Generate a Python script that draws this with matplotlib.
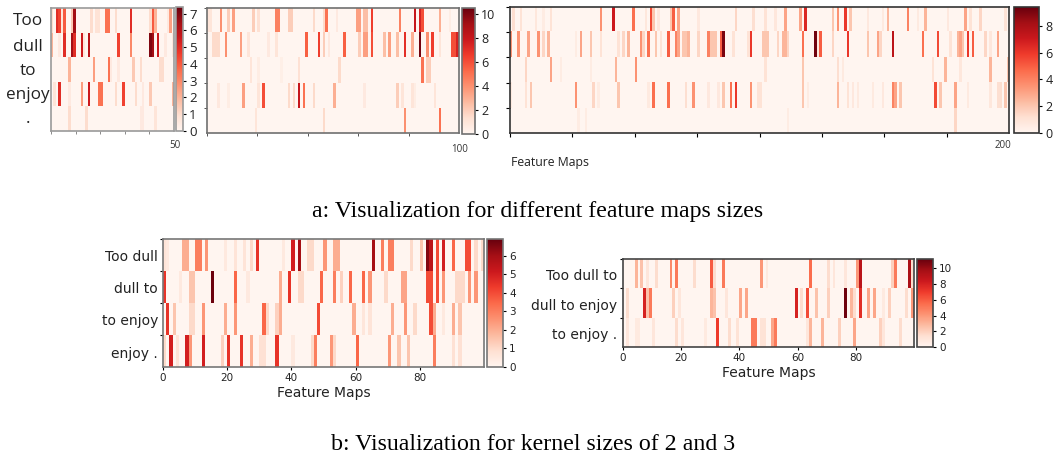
import numpy as np
import matplotlib
matplotlib.use("Agg")
import matplotlib.pyplot as plt

# each row: (feature map, activation), everything else is zero
a1_too = [(0,1),(2,5),(3,4.5),(4,.7),(5,4),(8,1.5),(9,6.5),(16,1),(18,.8),(19,.8),(22,3.5),(23,3.5),(26,1),(32,5),(40,1),(41,4),(42,2),(47,.5),(48,2.5)]
a1_dull = [(0,2),(3,.5),(5,5),(8,6.5),(9,5),(12,5.5),(13,.6),(15,6),(27,4.5),(32,3),(40,7),(41,6.5),(43,5.5),(46,.5),(49,.6)]
a1_to = [(7,2),(17,2.5),(23,3.5),(24,.5),(27,.5),(33,1.5),(36,1),(44,1),(45,1)]
a1_enjoy = [(1,.7),(3,5),(7,.5),(12,2.5),(15,5.5),(19,3.5),(20,3.5),(26,1),(29,4.5),(34,1),(37,.5),(40,1.5),(49,2)]
a1_dot = [(7,1),(14,1),(36,.5),(37,.5),(42,.7)]

a2_too = [(0,1),(1,1),(5,4),(8,2),(10,3.5),(18,2),(20,1.2),(27,4.5),(28,4.5),(32,2),(33,2),(42,1.5),(46,1.5),(47,5),(51,.7),(59,3.5),(60,3.5),(62,2.5),(63,2.5),(65,6.5),(76,4.5),(82,8),(84,7.5),(85,6),(92,3),(96,.5)]
a2_dull = [(2,1.5),(3,1.5),(4,1.5),(7,4),(13,3.5),(16,1),(24,.7),(27,1),(39,5.5),(44,6.5),(46,2),(48,.8),(54,5.5),(60,2),(62,3.5),(63,3.5),(65,6),(70,2.5),(72,3.5),(75,2.5),(78,7),(81,3),(84,10.2),(87,4),(89,6.5),(92,1),(97,6),(98,6),(99,7.5)]
a2_to = [(17,1),(20,.5),(29,.4),(36,1.2),(52,1.5),(85,5),(87,2),(88,2)]
a2_enjoy = [(4,.8),(8,.5),(14,3.5),(20,1),(22,6),(32,1.5),(34,1.5),(36,8),(38,5),(42,1.5),(50,3),(62,.7),(75,2),(77,1),(81,1),(82,.5),(90,1)]
a2_dot = [(19,1),(46,1.5),(78,4),(92,5)]

a3_too = [(1,1.2),(4,1),(10,.8),(13,.5),(16,1),(36,3.5),(41,7),(49,4.5),(54,.8),(56,5.5),(57,2),(59,.7),(64,2),(65,5),(67,3),(75,.7),(90,1.5),(97,1.2),(102,1),(106,.8),(110,3),(116,3),(118,6.5),(129,2),(131,3.5),(134,6),(136,2),(143,.7),(149,.6),(151,2.5),(159,4),(163,.6),(166,2.5),(175,.7),(182,3),(184,1),(188,1.5),(198,1)]
a3_dull = [(0,3.5),(3,3.5),(7,3),(11,3.5),(13,1.5),(15,2.5),(26,.5),(28,3),(32,2),(36,1),(43,1),(45,1.5),(47,2.5),(52,3.5),(53,1.5),(55,4.5),(58,2),(60,1),(63,5),(66,4),(67,3),(69,2),(70,2),(71,2.5),(75,1.5),(79,4),(80,2),(81,2),(82,2),(84,5),(85,9),(89,1),(95,1),(96,6),(101,2),(102,2),(103,2),(107,1.5),(109,2.5),(110,2.5),(111,1.5),(117,4.5),(122,9.2),(123,.7),(124,5),(129,1.5),(135,6),(143,2),(147,3),(148,1.5),(153,7.5),(165,4.5),(171,5.5),(176,1),(179,2.5),(180,3),(181,2),(183,6),(185,5),(190,1.5),(192,.8),(195,3)]
a3_to = [(6,1.5),(16,3),(20,.5),(32,.5),(42,2.5),(50,3.5),(102,1),(117,2),(131,1.2),(133,.6),(169,1),(174,2.5),(180,.8),(192,2.5),(199,2)]
a3_enjoy = [(0,.6),(6,1),(8,2),(26,3.5),(33,1.5),(35,.5),(43,2),(55,.6),(57,4.5),(63,4.5),(70,1.2),(73,3.5),(79,.7),(83,.7),(85,2),(88,4.5),(90,6),(96,3.5),(99,1),(100,1),(117,2),(119,.5),(131,2.5),(135,1),(137,.7),(139,.6),(145,.6),(149,.7),(153,4),(154,3),(156,2),(170,5.5),(172,2),(178,3),(183,.6),(192,.8),(195,1.2),(196,1.2),(198,2)]
a3_dot = [(27,.5),(30,.5),(111,.5),(178,1.5)]

b1_too_dull = [(0,.7),(1,.5),(6,2),(7,2),(10,3),(11,3),(13,2.5),(19,.5),(22,.7),(25,.7),(27,1),(29,4.5),(37,.5),(40,5),(42,6),(45,1),(46,1),(50,2.5),(53,2),(54,2),(65,6),(68,3),(70,3),(71,3),(77,1),(80,1.5),(82,6.5),(83,5.5),(85,4),(87,5),(90,3.5),(94,4),(95,4),(97,1),(99,1)]
b1_dull_to = [(0,4.5),(5,.5),(8,1.5),(9,1.5),(15,6.8),(22,3.5),(26,.5),(36,2),(39,4.5),(42,1),(43,1),(49,3.5),(53,3),(55,1.2),(58,3.5),(62,3.5),(64,2.5),(69,1),(74,2.2),(75,2.2),(82,4),(83,4),(85,4),(87,2.5),(91,1),(92,1),(93,1),(95,2.5),(97,2.5)]
b1_to_enjoy = [(1,4.5),(3,1.5),(8,1),(9,1),(12,2.5),(19,2),(22,2.5),(31,3.5),(32,1),(35,1.2),(36,2),(48,4),(59,2),(62,.6),(64,.7),(71,2),(75,2.5),(78,1),(83,4),(84,2),(87,.5),(90,2),(92,1.5)]
b1_enjoy_dot = [(0,1),(2,5),(4,.7),(7,5),(8,2.5),(12,5),(18,1.2),(20,4.5),(24,4.5),(27,2),(30,.8),(31,.8),(35,4.5),(40,.5),(46,1),(47,3),(52,2.5),(53,1),(60,3.5),(70,2.5),(73,1.5),(76,1.5),(84,3),(90,.8),(92,.8)]

b2_too_dull_to = [(4,3),(6,2.5),(8,1),(11,1.5),(16,4.5),(18,5),(24,1.5),(30,6),(31,1.5),(34,5),(47,4),(49,.7),(64,5.5),(70,1.5),(72,1),(76,1),(80,4),(81,9),(92,2),(93,5),(98,9.5),(99,1.5)]
b2_dull_to_enjoy = [(1,1.5),(7,8),(8,2.5),(9,5),(17,2),(19,1),(30,3),(31,2.5),(35,1),(40,3.5),(42,3.5),(59,8),(61,1.5),(63,6.5),(66,2.5),(70,2),(76,11),(78,3),(79,1.5),(81,7.5),(84,3.5),(86,3.5),(89,.7),(91,2),(97,1.5),(99,4)]
b2_to_enjoy_dot = [(1,1),(4,.7),(5,.7),(10,1),(18,1.5),(20,1),(28,.7),(32,7),(36,1.5),(39,1.2),(44,5),(45,5),(47,1.2),(48,1.2),(51,3.5),(52,5),(63,1),(64,3),(68,3),(74,2),(79,3.5),(88,2),(89,1),(95,1.5)]

words = ["Too", "dull", "to", "enjoy", "."]
bigram_labels = ["Too dull", "dull to", "to enjoy", "enjoy ."]
trigram_labels = ["Too dull to", "dull to enjoy", "to enjoy ."]

W, H = 1062, 455
fig = plt.figure(figsize=(W / 100, H / 100), dpi=100)


def box(x0, y0, x1, y1):
    # pixel box (top-left origin) to figure fractions
    return [x0 / W, 1 - y1 / H, (x1 - x0) / W, (y1 - y0) / H]


def to_matrix(rows, ncols):
    mat = np.zeros((len(rows), ncols))
    for i, row in enumerate(rows):
        for col, val in row:
            mat[i, col] = val
    return mat


def heat(rows, ncols, vmax, ax_box, cb_box, cb_ticks, edge, cb_size, tick_font):
    ax = fig.add_axes(box(*ax_box))
    cax = fig.add_axes(box(*cb_box))
    mat = to_matrix(rows, ncols)
    im = ax.imshow(mat, cmap="Reds", vmin=0, vmax=vmax, aspect="auto",
                   extent=(0, ncols, len(rows), 0), interpolation="nearest")
    cb = fig.colorbar(im, cax=cax, ticks=cb_ticks)
    cb.ax.tick_params(labelsize=cb_size, length=2.5, width=0.8, pad=2, labelcolor="#222222")
    for t in cb.ax.get_yticklabels():
        t.set_fontfamily(tick_font)
    cb.outline.set_edgecolor(edge)
    cb.outline.set_linewidth(1.2)
    for s in ax.spines.values():
        s.set_edgecolor(edge)
        s.set_linewidth(1.2)
    ax.set_yticks(range(len(rows)))
    return ax


# top row
ax = heat([a1_too, a1_dull, a1_to, a1_enjoy, a1_dot], 50, 7.4, (51, 8, 174, 131), (176, 7, 183, 131),
          range(8), "#9a9a9a", 9.5, "Open Sans")
ax.set_xticks(range(0, 50, 10))
ax.tick_params(labelbottom=False, labelleft=False, length=2, width=0.6, color="#777777")
ax.tick_params(axis="y", length=0)

ax = heat([a2_too, a2_dull, a2_to, a2_enjoy, a2_dot], 100, 10.5, (207, 8, 459, 133), (462, 8, 475, 134),
          range(0, 11, 2), "#707070", 9, "Open Sans")
ax.set_xticks(range(0, 100, 20))
ax.tick_params(labelbottom=False, labelleft=False, length=2.5, width=0.7, color="#555555")

ax = heat([a3_too, a3_dull, a3_to, a3_enjoy, a3_dot], 200, 9.4, (510, 7, 1009, 133), (1014, 7, 1039, 133),
          range(0, 9, 2), "#333333", 9, "Open Sans")
ax.set_xticks(range(0, 200, 25))
ax.tick_params(labelbottom=False, labelleft=False, length=3, width=0.8)

for word, y in zip(words, [21, 47, 71, 95, 119]):
    fig.text(28 / W, 1 - y / H, word, family="Open Sans", fontsize=12.3, ha="center", va="center", color="#222222")

fig.text(175 / W, 1 - 146 / H, "50", family="Open Sans", fontsize=7, ha="center", va="center", color="#333333")
fig.text(460 / W, 1 - 149 / H, "100", family="Open Sans", fontsize=7, ha="center", va="center", color="#333333")
fig.text(1003 / W, 1 - 146 / H, "200", family="Open Sans", fontsize=7, ha="center", va="center", color="#333333")
fig.text(511 / W, 1 - 162 / H, "Feature Maps", family="Open Sans", fontsize=8.8, ha="left", va="center", color="#222222")

# bottom row
ax = heat([b1_too_dull, b1_dull_to, b1_to_enjoy, b1_enjoy_dot], 100, 6.9, (163, 239, 484, 367), (487, 239, 503, 367),
          range(7), "#777777", 7.5, "DejaVu Sans")
ax.set_xticks(range(0, 100, 20))
ax.tick_params(labelsize=7.5, length=2.5, width=0.8, pad=1.5, labelcolor="#222222")
ax.tick_params(axis="y", labelleft=False)
ax.set_xlabel("Feature Maps", fontsize=10, labelpad=2.5, color="#222222")
for label, y in zip(bigram_labels, [257, 289, 321, 354]):
    fig.text(158 / W, 1 - y / H, label, fontsize=10, ha="right", va="center", color="#222222")

ax = heat([b2_too_dull_to, b2_dull_to_enjoy, b2_to_enjoy_dot], 100, 11.2, (623, 259, 914, 347), (917, 259, 933, 347),
          range(0, 11, 2), "#444444", 7.5, "DejaVu Sans")
ax.set_xticks(range(0, 100, 20))
ax.tick_params(labelsize=7.5, length=2.5, width=0.8, pad=1.5, labelcolor="#222222")
ax.tick_params(axis="y", labelleft=False)
ax.set_xlabel("Feature Maps", fontsize=10, labelpad=2.5, color="#222222")
for label, y in zip(trigram_labels, [276, 306, 335]):
    fig.text(617 / W, 1 - y / H, label, fontsize=10, ha="right", va="center", color="#222222")

fig.text(538 / W, 1 - 211 / H, "a: Visualization for different feature maps sizes",
         family="Liberation Serif", fontsize=17.2, ha="center", va="center", color="black")
fig.text(533 / W, 1 - 444 / H, "b: Visualization for kernel sizes of 2 and 3",
         family="Liberation Serif", fontsize=17.2, ha="center", va="center", color="black")

fig.savefig("out.png", dpi=100)
